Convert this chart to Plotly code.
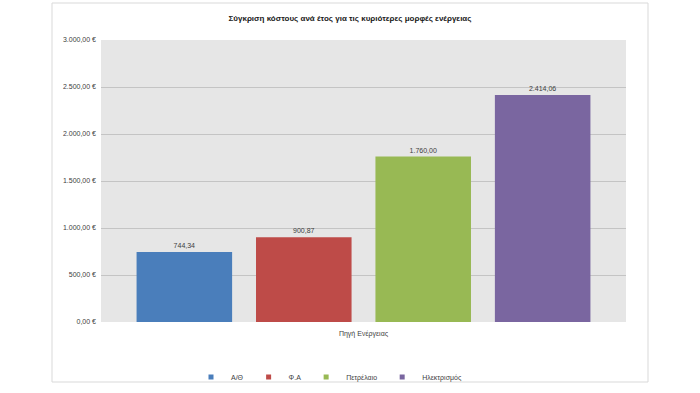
import plotly.graph_objects as go

category = ["Πηγή Ενέργειας"]
series_names = ["Α/Θ", "Φ.Α", "Πετρέλαιο", "Ηλεκτρισμός"]
series_values = [744.34, 900.87, 1760.00, 2414.06]
colors = ["#4A7EBB", "#BE4B48", "#98B954", "#7A66A0"]

W, H = 700, 393
L, R, T, B = 101, 74, 40, 71
pw, ph = W - L - R, H - T - B

def px_x(x):
    return (x - L) / pw

def px_y(y):
    return (H - B - y) / ph

fig = go.Figure()
for name, val, col in zip(series_names, series_values, colors):
    fig.add_trace(go.Bar(
        x=category, y=[val], name=name, marker=dict(color=col, line=dict(width=0)),
        texttemplate="%{y:,.2f}", textposition="outside",
        textfont=dict(size=7, color="#404040", family="Liberation Sans, Arial"),
        cliponaxis=False, showlegend=False, legendgroup=name,
    ))
    # small square legend swatch, like the original chart's legend keys
    fig.add_trace(go.Scatter(
        x=[None], y=[None], mode="markers", name=name, legendgroup=name,
        marker=dict(symbol="square", size=5, color=col), showlegend=True,
    ))

fig.update_layout(
    width=W, height=H,
    margin=dict(l=L, r=R, t=T, b=B, autoexpand=False),
    paper_bgcolor="white", plot_bgcolor="#E6E6E6",
    separators=",.",
    barmode="group", bargap=0.09, bargroupgap=0.2,
    font=dict(family="Liberation Sans, Arial", size=7, color="#404040"),
    title=dict(text="<b>Σύγκριση κόστους ανά έτος για τις κυριότερες μορφές ενέργειας</b>",
               x=0.5, xanchor="center", y=1 - 18 / H, yanchor="middle",
               font=dict(size=8, color="#1a1a1a")),
    xaxis=dict(showgrid=False, ticks="", showline=False, tickfont=dict(size=7),
               ticklabelstandoff=6),
    yaxis=dict(range=[0, 3000], dtick=500, tickformat=",.2f", ticksuffix=" €",
               showgrid=True, gridcolor="#C4C4C4", gridwidth=1, zeroline=False,
               showline=False, ticks="", tickfont=dict(size=7), ticklabelstandoff=4),
    legend=dict(orientation="h", x=px_x(329), xanchor="center", y=px_y(377), yanchor="middle",
                font=dict(size=7), itemwidth=30, traceorder="normal",
                bgcolor="rgba(0,0,0,0)", tracegroupgap=0),
    showlegend=True,
    shapes=[dict(type="rect", xref="paper", yref="paper",
                 x0=px_x(52), x1=px_x(648), y0=px_y(382), y1=px_y(3),
                 line=dict(color="#D9D9D9", width=1), fillcolor="rgba(0,0,0,0)", layer="below")],
)

fig.write_html("out.html", config={"displayModeBar": False},
               post_script="document.body.style.margin='0';")
